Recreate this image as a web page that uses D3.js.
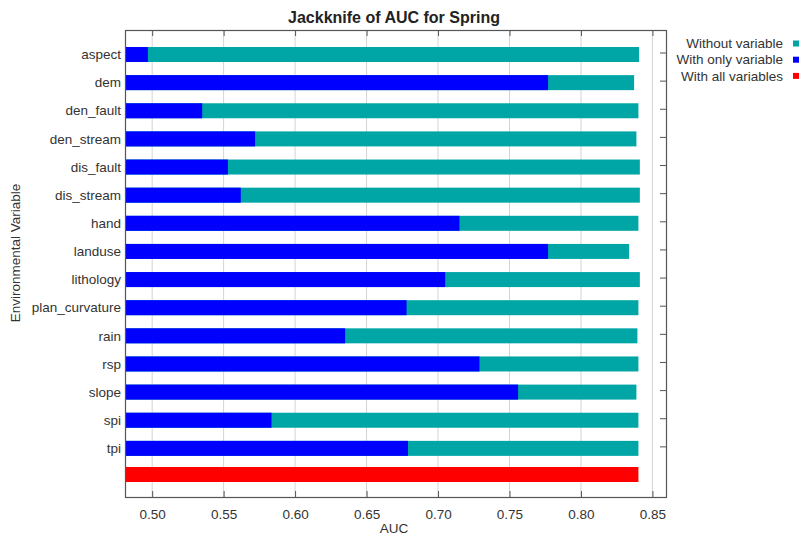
<!DOCTYPE html>
<html>
<head>
<meta charset="utf-8">
<script src="https://cdn.jsdelivr.net/npm/d3@7"></script>
<style>
  html, body { margin: 0; padding: 0; background: #fff; }
  svg { display: block; font-family: "Liberation Sans", Arial, sans-serif; }
</style>
</head>
<body>
<svg id="chart" width="804" height="537"></svg>
<script>
// Jackknife of AUC for Spring
const variables = ['aspect', 'dem', 'den_fault', 'den_stream', 'dis_fault', 'dis_stream',
    'hand', 'landuse', 'lithology', 'plan_curvature', 'rain', 'rsp', 'slope', 'spi', 'tpi'];
const withoutVariable = [0.8407, 0.8372, 0.8402, 0.8388, 0.8412, 0.8412, 0.8402, 0.8337,
    0.8412, 0.8402, 0.8395, 0.8402, 0.8388, 0.8402, 0.8402];
const withOnlyVariable = [0.497, 0.777, 0.535, 0.572, 0.553, 0.562, 0.715, 0.777,
    0.705, 0.678, 0.635, 0.729, 0.756, 0.5835, 0.679];
const withAllVariables = 0.8402;
const xTicks = [0.50, 0.55, 0.60, 0.65, 0.70, 0.75, 0.80, 0.85];
const legendItems = [
    { label: 'Without variable', color: '#00a6a6' },
    { label: 'With only variable', color: '#0000ff' },
    { label: 'With all variables', color: '#ff0000' },
];

const margin = { top: 30, right: 138, bottom: 40, left: 125 };
const width = 804, height = 537;
const svg = d3.select('#chart');

const rows = [...variables, '__all'];
const x = d3.scaleLinear().domain([0.481, 0.8595]).range([margin.left, width - margin.right]);
const y = d3.scalePoint().domain(rows).range([margin.top, height - margin.bottom]).padding(0.8);
const barH = 15;
const barOff = 2;

// Grid
svg.append('g')
    .selectAll('line')
    .data(xTicks)
    .join('line')
    .attr('x1', d => x(d)).attr('x2', d => x(d))
    .attr('y1', margin.top).attr('y2', height - margin.bottom)
    .attr('stroke', '#d4d4d4')
    .attr('stroke-width', 1);

// Bars: without variable (underneath), only variable on top
const data = variables.map((v, i) => ({ name: v, without: withoutVariable[i], only: withOnlyVariable[i] }));
const x0 = x.range()[0];

svg.append('g')
    .selectAll('rect')
    .data(data)
    .join('rect')
    .attr('x', x0)
    .attr('y', d => y(d.name) + barOff - barH / 2)
    .attr('width', d => x(d.without) - x0)
    .attr('height', barH)
    .attr('fill', legendItems[0].color);

svg.append('g')
    .selectAll('rect')
    .data(data)
    .join('rect')
    .attr('x', x0)
    .attr('y', d => y(d.name) + barOff - barH / 2)
    .attr('width', d => Math.max(0, x(d.only) - x0))
    .attr('height', barH)
    .attr('fill', legendItems[1].color);

svg.append('rect')
    .attr('x', x0)
    .attr('y', y('__all') - barH / 2)
    .attr('width', x(withAllVariables) - x0)
    .attr('height', barH)
    .attr('fill', legendItems[2].color);

// Frame
const plotW = width - margin.left - margin.right;
const plotH = height - margin.top - margin.bottom;
svg.append('rect')
    .attr('x', margin.left + 0.5).attr('y', margin.top + 0.5)
    .attr('width', plotW).attr('height', plotH)
    .attr('fill', 'none')
    .attr('stroke', '#555')
    .attr('stroke-width', 1.2);

// Bottom axis
const xAxis = svg.append('g')
    .attr('transform', `translate(0,${height - margin.bottom})`)
    .call(d3.axisBottom(x).tickValues(xTicks).tickFormat(d3.format('.2f')).tickSizeInner(-6).tickSizeOuter(0).tickPadding(12));
xAxis.select('.domain').remove();
xAxis.selectAll('line').attr('stroke', '#555');
xAxis.selectAll('text').attr('fill', '#333').attr('font-size', 13.5).attr('font-family', '"Liberation Sans", Arial, sans-serif');

// Top ticks
const xTop = svg.append('g')
    .attr('transform', `translate(0,${margin.top})`)
    .call(d3.axisTop(x).tickValues(xTicks).tickFormat('').tickSizeInner(-6).tickSizeOuter(0));
xTop.select('.domain').remove();
xTop.selectAll('line').attr('stroke', '#555');

// Right ticks at variable rows
const yRight = svg.append('g')
    .attr('transform', `translate(${width - margin.right},0)`)
    .call(d3.axisRight(y).tickValues(variables).tickFormat('').tickSizeInner(-6).tickSizeOuter(0));
yRight.select('.domain').remove();
yRight.selectAll('line').attr('stroke', '#555');

// Left labels
svg.append('g')
    .selectAll('text')
    .data(variables)
    .join('text')
    .attr('x', margin.left - 4)
    .attr('y', d => y(d) + barOff)
    .attr('dy', '0.35em')
    .attr('text-anchor', 'end')
    .attr('font-size', 13.5)
    .attr('fill', '#333')
    .text(d => d);

// Title
svg.append('text')
    .attr('x', 394).attr('y', 23)
    .attr('text-anchor', 'middle')
    .attr('font-size', 16)
    .attr('font-weight', 'bold')
    .attr('fill', '#222')
    .text('Jackknife of AUC for Spring');

// Axis titles
svg.append('text')
    .attr('x', 394).attr('y', 533)
    .attr('text-anchor', 'middle')
    .attr('font-size', 13.5)
    .attr('fill', '#333')
    .text('AUC');

svg.append('text')
    .attr('transform', 'translate(20,253) rotate(-90)')
    .attr('text-anchor', 'middle')
    .attr('font-size', 13.5)
    .attr('fill', '#333')
    .text('Environmental Variable');

// Legend
const legend = svg.append('g')
    .selectAll('g')
    .data(legendItems)
    .join('g')
    .attr('transform', (d, i) => `translate(783,${43.5 + i * 16.2})`);
legend.append('text')
    .attr('text-anchor', 'end')
    .attr('dy', '0.35em')
    .attr('font-size', 13.5)
    .attr('fill', '#333')
    .text(d => d.label);
legend.append('rect')
    .attr('x', 10).attr('y', -3)
    .attr('width', 6).attr('height', 6)
    .attr('fill', d => d.color);
</script>
</body>
</html>
